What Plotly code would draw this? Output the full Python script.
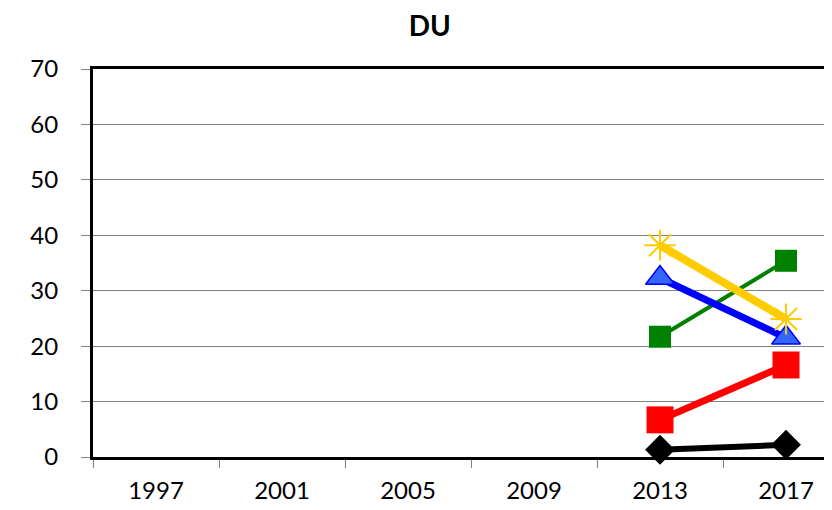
import plotly.graph_objects as go

years = ["1997", "2001", "2005", "2009", "2013", "2017"]

green_vals = [None, None, None, None, 21.7, 35.4]
blue_vals = [None, None, None, None, 32.3, 21.5]
red_vals = [None, None, None, None, 6.7, 16.6]
yellow_vals = [None, None, None, None, 38.2, 24.9]
black_vals = [None, None, None, None, 1.3, 2.2]

series = [
    # values, line colour, width, marker symbol, marker size, marker colour, marker line
    (green_vals, "#008000", 4, "square", 22, "#008000", "#008000", 0),
    (blue_vals, "#0000ff", 7, "triangle-up", 25, "#3366ff", "#0000ff", 1.5),
    (red_vals, "#ff0000", 7, "square", 27, "#ff0000", "#ff0000", 0),
    (yellow_vals, "#ffcc00", 8, "asterisk-open", 26, "#ffcc00", "#ffcc00", 2),
    (black_vals, "#000000", 6, "diamond", 23, "#000000", "#000000", 0),
]

fig = go.Figure()
for vals, lc, lw, sym, ms, mc, mlc, mlw in series:
    fig.add_trace(go.Scatter(
        x=years, y=vals,
        mode="lines+markers",
        line=dict(color=lc, width=lw),
        marker=dict(symbol=sym, size=ms, color=mc,
                    line=dict(color=mlc, width=mlw)),
        cliponaxis=False,
        showlegend=False,
    ))

# the page body has an 8px margin, so the figure is shrunk to fit
fig.update_layout(
    width=824, height=502,
    margin=dict(l=85, r=0, t=61, b=53),
    paper_bgcolor="white",
    plot_bgcolor="white",
    font=dict(family="Lato, Open Sans, sans-serif", size=24, color="#000000"),
    title=dict(text="<b>DU</b>", x=0.512, xanchor="center", y=0.963,
               yanchor="middle", font=dict(size=28)),
    xaxis=dict(
        type="category",
        range=[-0.5, 5.365],
        showline=True, linecolor="#000000", linewidth=3, mirror=True,
        showgrid=False,
        ticks="outside", tickson="boundaries", ticklen=8,
        tickcolor="#808080", tickwidth=1,
        ticklabelstandoff=10,
        tickfont=dict(size=24),
    ),
    yaxis=dict(
        range=[0, 70], dtick=10,
        showline=True, linecolor="#000000", linewidth=3,
        showgrid=True, gridcolor="#808080", gridwidth=1,
        zeroline=False,
        ticks="outside", ticklen=9, tickcolor="#808080", tickwidth=1,
        ticklabelstandoff=18,
        tickfont=dict(size=24),
    ),
)

fig.write_html("out.html")
